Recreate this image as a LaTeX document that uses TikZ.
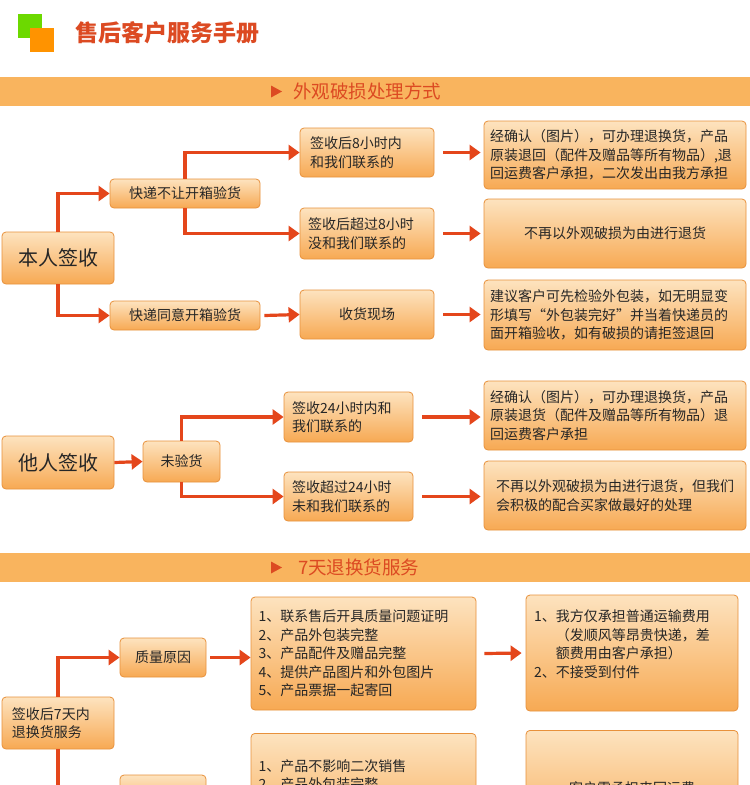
\documentclass[tikz,border=0pt]{standalone}
\usepackage{fontspec}
\setmainfont{Noto Sans CJK SC}
\usetikzlibrary{arrows.meta}
\definecolor{band}{HTML}{F9B45E}
\definecolor{titlered}{HTML}{DC4A22}
\definecolor{arrowred}{HTML}{E4461B}
\definecolor{boxedge}{HTML}{E8913C}
\definecolor{boxtop}{HTML}{FDE3BF}
\definecolor{boxbot}{HTML}{F7A953}
\tikzset{
  box/.style={draw=boxedge,line width=0.8pt,rounded corners=4pt,top color=boxtop,bottom color=boxbot,
    inner sep=3pt,font=\fontsize{14}{18.5}\selectfont,text=black!85},
  para/.style={align=left,text width=#1},
  arr/.style={draw=arrowred,line width=3.2pt,-{Triangle[length=11pt,width=15pt]}}
}
\begin{document}
\begin{tikzpicture}[x=1pt,y=-1pt]
\useasboundingbox (0,0) rectangle (750,785);
\clip (0,0) rectangle (750,785);
\fill[white] (0,0) rectangle (750,785);
% title
\fill[green!50!yellow!85!black] (18,14) rectangle (42,38);
\fill[orange!85!yellow] (30,28) rectangle (54,52);
\node[anchor=west,text=titlered,font=\fontsize{23}{26}\selectfont\bfseries] (title) at (72,33) {售后客户服务手册};
% bands
\foreach \by/\btxt/\bx in {77/外观破损处理方式/293,553/7天退换货服务/298}{
  \fill[band] (0,\by) rectangle (750,\by+29);
  \fill[titlered] (271,\by+8.5) -- (282,\by+14.5) -- (271,\by+20.5) -- cycle;
  \node[anchor=west,inner sep=0pt,text=titlered,font=\fontsize{18.5}{20}\selectfont] at (\bx,\by+14.5) {\btxt};
}
% section 1
\node[box,minimum width=112,minimum height=52,font=\fontsize{20}{22}\selectfont] (benren) at (58,258) {本人签收};
\node[box,minimum width=150,minimum height=29] (kd1) at (185,193.5) {快递不让开箱验货};
\node[box,minimum width=150,minimum height=29] (kd2) at (185,315.5) {快递同意开箱验货};
\node[box,minimum width=134,minimum height=49,para=114pt] (s8a) at (367,152.5) {签收后8小时内\\和我们联系的};
\node[box,minimum width=134,minimum height=51,para=118pt] (s8b) at (367,233.5) {签收后超过8小时\\没和我们联系的};
\node[box,minimum width=134,minimum height=49] (xc) at (367,314.5) {收货现场};
\node[box,minimum width=262,minimum height=68,para=250pt] (r1) at (615,155) {经确认（图片），可办理退换货，产品\\原装退回（配件及赠品等所有物品）,退\\回运费客户承担，二次发出由我方承担};
\node[box,minimum width=262,minimum height=69] (r2) at (615,233.5) {不再以外观破损为由进行退货};
\node[box,minimum width=262,minimum height=70,para=250pt] (r3) at (615,315) {建议客户可先检验外包装，如无明显变\\形填写“外包装完好”并当着快递员的\\面开箱验收，如有破损的请拒签退回};
\draw[arr] (benren.north) |- (kd1.west);
\draw[arr] (benren.south) |- (kd2.west);
\draw[arr] (kd1.north) |- (s8a.west);
\draw[arr] (kd1.south) |- (s8b.west);
\draw[arr] ([xshift=4pt]kd2.east) -- (xc.west);
\foreach \a/\b in {s8a/r1,s8b/r2,xc/r3}{\draw[arr] ([xshift=9pt]\a.east) -- ([xshift=-3pt]\a.east-|\b.west);}
% section 2
\node[box,minimum width=112,minimum height=53,font=\fontsize{20}{22}\selectfont] (taren) at (58,462.5) {他人签收};
\node[box,minimum width=77,minimum height=41] (wyh) at (181.5,461.5) {未验货};
\node[box,minimum width=129,minimum height=50,para=113pt] (s24a) at (348.5,417) {签收24小时内和\\我们联系的};
\node[box,minimum width=129,minimum height=49,para=113pt] (s24b) at (348.5,496.5) {签收超过24小时\\未和我们联系的};
\node[box,minimum width=262,minimum height=69,para=250pt] (r4) at (615,415.5) {经确认（图片），可办理退换货，产品\\原装退货（配件及赠品等所有物品）退\\回运费客户承担};
\node[box,minimum width=262,minimum height=69,para=250pt] (r5) at (615,495.5) {\hspace*{6pt}{}不再以外观破损为由进行退货，但我们\\\hspace*{6pt}{}会积极的配合买家做最好的处理};
\draw[arr] (taren.east) -- (wyh.west);
\draw[arr] (wyh.north) |- (s24a.west);
\draw[arr] (wyh.south) |- (s24b.west);
\foreach \a/\b in {s24a/r4,s24b/r5}{\draw[arr] ([xshift=9pt]\a.east) -- ([xshift=-3pt]\a.east-|\b.west);}
% section 3
\node[box,minimum width=112,minimum height=52,para=100pt] (qs7) at (58,723) {\hspace*{4pt}{}签收后7天内\\\hspace*{4pt}{}退换货服务};
\node[box,minimum width=86,minimum height=39] (zl) at (163,657.5) {质量原因};
\node[box,minimum width=86,minimum height=40] (zl2) at (163,795) {};
\node[box,minimum width=225,minimum height=113,para=210pt] (tj1) at (363.5,653.5) {1、联系售后开具质量问题证明\\2、产品外包装完整\\3、产品配件及赠品完整\\4、提供产品图片和外包图片\\5、产品票据一起寄回};
\node[box,minimum width=225,minimum height=113,para=210pt,anchor=north] (tj2) at (363.5,733) {\mbox{}\\1、产品不影响二次销售\\2、产品外包装完整\\\mbox{}\\\mbox{}};
\node[box,minimum width=212,minimum height=116,para=196pt] (fy1) at (632,653) {1、我方仅承担普通运输费用\\\phantom{1、}（发顺风等昂贵快递，差\\\phantom{1、}额费用由客户承担）\\2、不接受到付件\\\mbox{}};
\node[box,minimum width=212,minimum height=116,anchor=north] (fy2) at (632,730) {客户需承担来回运费};
\draw[arr] (qs7.north) |- (zl.west);
\draw[arr] (qs7.south) |- (zl2.west);
\draw[arr] ([xshift=4pt]zl.east) -- (tj1.west|-zl.east);
\draw[arr] ([xshift=8pt]tj1.east) -- ([xshift=-4pt]fy1.west);
\end{tikzpicture}
\end{document}
